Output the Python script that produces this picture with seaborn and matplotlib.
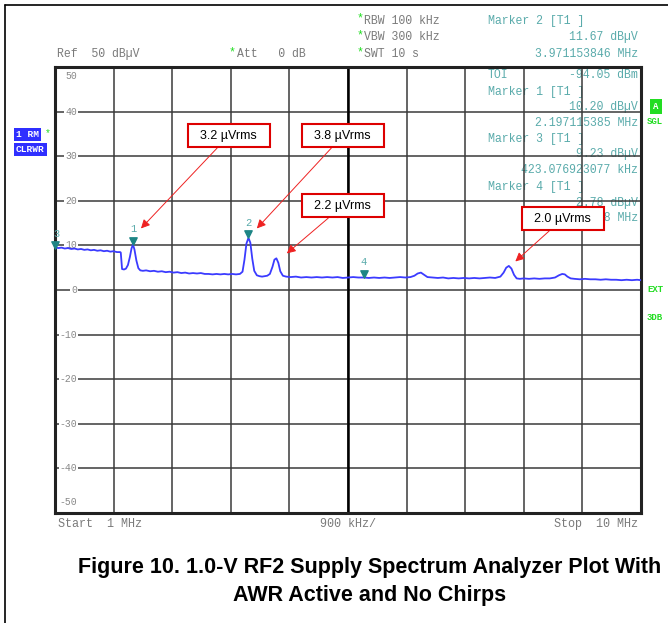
"""Spectrum analyzer plot: 1.0-V RF2 supply, AWR active, no chirps."""

import matplotlib.pyplot as plt
import pandas as pd
import seaborn as sns
from matplotlib.lines import Line2D
from matplotlib.transforms import offset_copy

# trace (MHz, dBuV)
freq_mhz = [
    1.00, 1.05, 1.10, 1.15, 1.20, 1.25, 1.30, 1.35, 1.40, 1.45, 1.50, 1.55,
    1.60, 1.65, 1.70, 1.75, 1.80, 1.85, 1.90, 1.95, 2.00, 2.01, 2.03, 2.06,
    2.09, 2.12, 2.15, 2.175, 2.197, 2.22, 2.25, 2.28, 2.31, 2.35, 2.40, 2.46,
    2.52, 2.58, 2.64, 2.70, 2.76, 2.82, 2.88, 2.94, 3.00, 3.06, 3.12, 3.18,
    3.24, 3.30, 3.36, 3.42, 3.48, 3.54, 3.60, 3.66, 3.72, 3.78, 3.84, 3.88,
    3.91, 3.94, 3.971, 4.00, 4.03, 4.06, 4.10, 4.14, 4.18, 4.22, 4.26, 4.30,
    4.34, 4.37, 4.40, 4.43, 4.46, 4.50, 4.55, 4.62, 4.70, 4.78, 4.86, 4.94,
    5.02, 5.10, 5.18, 5.26, 5.34, 5.42, 5.50, 5.58, 5.66, 5.745, 5.82, 5.90,
    5.98, 6.06, 6.14, 6.22, 6.30, 6.38, 6.46, 6.52, 6.57, 6.62, 6.67, 6.72,
    6.80, 6.88, 6.96, 7.04, 7.12, 7.20, 7.28, 7.36, 7.44, 7.52, 7.60, 7.68,
    7.76, 7.84, 7.89, 7.93, 7.97, 8.01, 8.05, 8.09, 8.14, 8.20, 8.28, 8.36,
    8.44, 8.52, 8.60, 8.68, 8.74, 8.79, 8.83, 8.87, 8.92, 8.98, 9.06, 9.14,
    9.22, 9.30, 9.38, 9.46, 9.54, 9.62, 9.70, 9.78, 9.86, 9.94, 10.00,
]
level_dbuv = [
    9.6, 9.4, 9.5, 9.3, 9.4, 9.2, 9.3, 9.1, 9.2, 9.0, 9.1, 8.9,
    9.0, 8.8, 8.9, 8.7, 8.8, 8.6, 8.7, 8.5, 8.5, 8.4, 4.7, 4.6,
    4.8, 5.6, 7.4, 9.3, 10.2, 9.1, 6.6, 4.9, 4.4, 4.3, 4.4, 4.2,
    4.3, 4.1, 4.2, 4.0, 4.1, 3.9, 4.0, 3.8, 3.9, 3.7, 3.8, 3.7,
    3.8, 3.6, 3.6, 3.5, 3.6, 3.5, 3.6, 3.5, 3.6, 3.5, 3.6, 4.1,
    6.8, 10.4, 11.7, 10.6, 7.0, 4.3, 3.3, 3.1, 3.0, 3.1, 3.2, 3.6,
    5.2, 6.8, 7.1, 6.1, 4.2, 3.2, 3.0, 2.9, 3.0, 2.8, 2.9, 2.8,
    2.9, 2.8, 2.9, 2.8, 2.9, 2.7, 2.8, 2.9, 2.8, 2.8, 2.7, 2.8,
    2.7, 2.8, 2.7, 2.8, 2.9, 2.8, 2.9, 3.2, 3.7, 3.9, 3.4, 2.9,
    2.8, 2.7, 2.8, 2.6, 2.7, 2.6, 2.7, 2.6, 2.7, 2.6, 2.7, 2.8,
    2.7, 3.0, 3.9, 5.0, 5.4, 4.8, 3.4, 2.6, 2.5, 2.6, 2.5, 2.6,
    2.5, 2.6, 2.6, 2.8, 3.3, 3.6, 3.5, 3.0, 2.6, 2.5, 2.4, 2.5,
    2.4, 2.4, 2.3, 2.4, 2.3, 2.3, 2.2, 2.3, 2.2, 2.3, 2.2,
]

# instrument markers
marker_ids = ["1", "2", "3", "4"]
marker_freq = [2.197, 3.971, 1.00, 5.745]
marker_level = [10.20, 11.67, 9.23, 2.78]

# red call-outs: label, arrow tip (MHz, dBuV), box centre (MHz, dBuV)
callout_text = ["3.2 µVrms", "3.8 µVrms", "2.2 µVrms", "2.0 µVrms"]
callout_tip = [(2.32, 13.8), (4.10, 13.8), (4.56, 8.2), (8.07, 6.4)]
callout_box = [(3.67, 34.6), (5.42, 34.6), (5.42, 18.9), (8.80, 16.0)]

y_ticks = [50, 40, 30, 20, 10, 0, -10, -20, -30, -40, -50]

W, H = 668, 623
GRID = "#3a3a3a"
TEAL = "#5aabab"
GREEN = "#22dd22"
GRAY = "#7a7a7a"
MONO = "Liberation Mono"


def px(x, y):
    return x / W, 1 - y / H


sns.set_style("white")
plt.rcParams["font.family"] = ["Liberation Sans", "DejaVu Sans"]

fig = plt.figure(figsize=(W / 100, H / 100), dpi=100)
ax = fig.add_axes([55 / W, 1 - 513 / H, 586 / W, 446 / H])

df = pd.DataFrame({"freq": freq_mhz, "level": level_dbuv})
sns.lineplot(data=df, x="freq", y="level", color="#3b3bff", linewidth=1.3,
             estimator=None, ax=ax, zorder=3)

ax.set_xlim(1, 10)
ax.set_ylim(-50, 50)
ax.set_xticks([1 + 0.9 * i for i in range(11)])
ax.set_yticks(y_ticks)
ax.set_axisbelow(True)
ax.grid(True, color=GRID, linewidth=1.1)
ax.axvline(5.5, color="black", linewidth=1.8, zorder=1)
ax.tick_params(length=0, labelbottom=False, labelleft=False)
ax.set_xlabel("")
ax.set_ylabel("")
for s in ax.spines.values():
    s.set_color("#222222")
    s.set_linewidth(2.2)

# level labels sit on the grid lines
for v in y_ticks:
    y = v
    if v == 50:
        y = 47.9
    elif v == -50:
        y = -47.6
    ax.text(1.34, y, str(v), ha="right", va="center", fontsize=7, family=MONO,
            color="#888888", zorder=2,
            bbox=dict(boxstyle="square,pad=0.1", fc="white", ec="none"))

# marker triangles and numbers
tri = offset_copy(ax.transData, fig=fig, y=4, units="dots")
ax.scatter(marker_freq, marker_level, marker="v", s=28, color="#1d8585",
           transform=tri, zorder=5, clip_on=False)
for mid, f, lv in zip(marker_ids, marker_freq, marker_level):
    ax.annotate(mid, (f, lv), xytext=(0 if mid != "3" else 1, 11),
                textcoords="offset points", ha="center", va="center",
                fontsize=7.5, family=MONO, color=TEAL, zorder=5,
                annotation_clip=False)

# marker read-out inside the screen, under the grid and the call-outs
readout = [
    ("TOI", "-94.05 dBm", 75),
    ("Marker 1 [T1 ]", None, 92),
    (None, "10.20 dBµV", 107),
    (None, "2.197115385 MHz", 123),
    ("Marker 3 [T1 ]", None, 139),
    (None, "9.23 dBµV", 154),
    (None, "423.076923077 kHz", 170),
    ("Marker 4 [T1 ]", None, 187),
    (None, "2.78 dBµV", 203),
    (None, "5.745192308 MHz", 218),
]
for left, right, y in readout:
    if left:
        ax.text(*px(488, y), left, ha="left", va="center", fontsize=8.3,
                family=MONO, color=TEAL, zorder=0.4,
                transform=fig.transFigure)
    if right:
        ax.text(*px(638, y), right, ha="right", va="center", fontsize=8.3,
                family=MONO, color=TEAL, zorder=0.4,
                transform=fig.transFigure)

# call-outs
for txt, tip, box in zip(callout_text, callout_tip, callout_box):
    ax.annotate(f"  {txt}  ", xy=tip, xytext=box, ha="center", va="center",
                fontsize=9, color="black", zorder=6,
                bbox=dict(boxstyle="square,pad=0.45", fc="white",
                          ec="#dd0000", lw=1.5),
                arrowprops=dict(arrowstyle="-|>", color="#ee2222", lw=0.7,
                                mutation_scale=13, shrinkA=0, shrinkB=0))

# header
fig.text(*px(57, 54), "Ref  50 dBµV", ha="left", va="center", fontsize=8.3,
         family=MONO, color=GRAY)
fig.text(*px(232, 52), "*", ha="center", va="center", fontsize=8.3,
         family=MONO, color=GREEN)
fig.text(*px(237, 54), "Att   0 dB", ha="left", va="center", fontsize=8.3,
         family=MONO, color=GRAY)
for label, y in [("RBW 100 kHz", 20.7), ("VBW 300 kHz", 37), ("SWT 10 s", 54)]:
    fig.text(*px(360, y - 2), "*", ha="center", va="center", fontsize=8.3,
             family=MONO, color=GREEN)
    fig.text(*px(364, y), label, ha="left", va="center", fontsize=8.3,
             family=MONO, color=GRAY)
fig.text(*px(488, 20.7), "Marker 2 [T1 ]", ha="left", va="center",
         fontsize=8.3, family=MONO, color=TEAL)
fig.text(*px(638, 37), "11.67 dBµV", ha="right", va="center", fontsize=8.3,
         family=MONO, color=TEAL)
fig.text(*px(638, 54), "3.971153846 MHz", ha="right", va="center",
         fontsize=8.3, family=MONO, color=TEAL)

# footer of the screen
fig.text(*px(58, 524), "Start  1 MHz", ha="left", va="center", fontsize=8.5,
         family=MONO, color=GRAY)
fig.text(*px(348, 524), "900 kHz/", ha="center", va="center", fontsize=8.5,
         family=MONO, color=GRAY)
fig.text(*px(638, 524), "Stop  10 MHz", ha="right", va="center",
         fontsize=8.5, family=MONO, color=GRAY)

# side badges
blue_box = dict(boxstyle="square,pad=0.2", fc="#2f2fff", ec="none")
fig.text(*px(16, 134.5), "1 RM", ha="left", va="center", fontsize=6.8,
         family=MONO, weight="bold", color="white", bbox=blue_box)
fig.text(*px(48, 133), "*", ha="center", va="center", fontsize=7,
         family=MONO, color=GREEN)
fig.text(*px(16, 149.5), "CLRWR", ha="left", va="center", fontsize=6.8,
         family=MONO, weight="bold", color="white", bbox=blue_box)
fig.text(*px(656, 106.5), "A", ha="center", va="center", fontsize=6.5,
         family=MONO, weight="bold", color="white",
         bbox=dict(boxstyle="square,pad=0.35", fc=GREEN, ec="none"))
for label, y in [("SGL", 122), ("EXT", 290), ("3DB", 318)]:
    fig.text(*px(647, y), label, ha="left", va="center", fontsize=6.5,
             family=MONO, weight="bold", color=GREEN)

# caption
fig.text(*px(370, 568), "Figure 10. 1.0-V RF2 Supply Spectrum Analyzer Plot With",
         ha="center", va="center", fontsize=15.5, weight="bold", color="black")
fig.text(*px(370, 595), "AWR Active and No Chirps", ha="center", va="center",
         fontsize=15.5, weight="bold", color="black")

# page frame
fig.add_artist(Line2D([5 / W, 1], [1 - 5 / H, 1 - 5 / H], color="black",
                      linewidth=1.2))
fig.add_artist(Line2D([5 / W, 5 / W], [0, 1 - 5 / H], color="black",
                      linewidth=1.2))

fig.savefig("out.png", dpi=100)
